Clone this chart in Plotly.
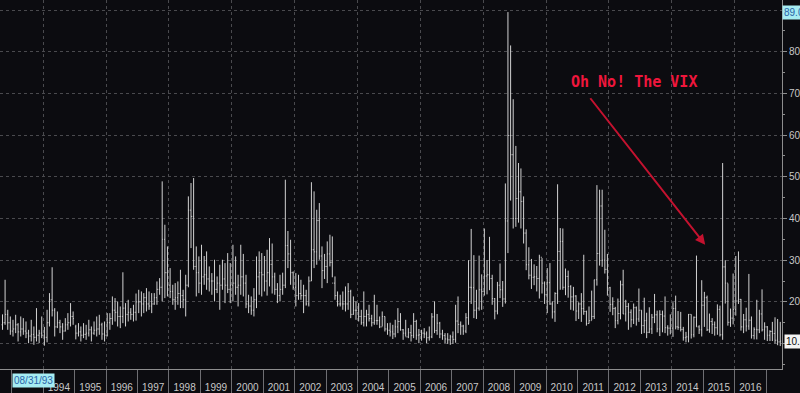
import pandas as pd
import plotly.graph_objects as go

# ---------------- data (monthly VIX bars, Sep 1992 .. Jun 2017) ----------------
first_month = "1992-09-01"

vix_open = [
    14.5, 15.0, 17.0, 15.0,
    13.0, 13.5, 14.5, 12.8, 13.5, 13.0, 12.5, 11.8, 12.2, 11.5, 12.0, 12.5,
    12.0, 11.5, 15.0, 20.5, 18.0, 14.0, 15.0, 14.0, 13.0, 14.5, 15.0, 16.5,
    14.0, 12.5, 12.8, 12.0, 12.2, 12.5, 13.3, 12.5, 13.2, 13.5, 14.5, 12.3,
    12.0, 15.0, 16.0, 18.0, 17.5, 16.5, 16.5, 18.5, 17.0, 17.5, 17.0, 17.5,
    20.0, 20.0, 19.5, 21.0, 19.5, 19.0, 19.5, 21.0, 23.0, 23.5, 35.0, 27.0,
    24.0, 22.5, 20.5, 21.0, 22.0, 21.5, 20.5, 24.0, 42.0, 40.5, 28.5, 27.0,
    24.5, 26.0, 26.5, 25.5, 25.0, 25.0, 23.0, 24.5, 24.0, 25.5, 24.0, 23.0,
    24.0, 24.5, 23.5, 24.0, 26.0, 24.5, 19.5, 19.0, 18.0, 20.5, 26.0, 27.0,
    26.5, 25.0, 27.0, 29.0, 26.0, 23.0, 21.5, 23.0, 24.0, 33.5, 31.5, 27.0,
    23.5, 21.5, 22.0, 21.5, 21.5, 19.5, 25.0, 32.5, 32.0, 39.5, 31.0, 27.5,
    28.5, 31.5, 29.5, 24.5, 21.5, 19.5, 19.5, 19.5, 19.5, 22.5, 17.0, 18.0,
    18.0, 16.5, 15.0, 16.5, 17.0, 16.0, 15.0, 15.5, 15.5, 14.0, 16.5, 13.5,
    13.2, 12.8, 12.3, 14.0, 15.3, 13.3, 12.5, 11.6, 12.6, 11.9, 15.3, 12.0,
    12.1, 12.5, 12.3, 11.4, 11.6, 16.4, 13.1, 14.9, 12.3, 11.9, 11.1, 10.9,
    11.6, 11.0, 15.4, 14.6, 14.2, 13.0, 16.2, 23.5, 23.4, 18.0, 18.5, 22.9,
    22.5, 26.2, 26.5, 25.6, 20.8, 17.8, 24.0, 22.9, 20.7, 39.4, 59.9, 55.3,
    40.0, 44.8, 46.4, 44.1, 36.5, 28.9, 26.4, 25.9, 26.0, 25.6, 30.7, 24.5,
    21.7, 24.6, 19.5, 17.6, 22.0, 32.1, 34.5, 23.5, 26.1, 23.7, 21.2, 21.4,
    17.8, 19.5, 18.4, 17.7, 14.8, 15.5, 16.5, 25.3, 31.6, 43.0, 30.0, 27.8,
    23.4, 19.4, 18.4, 15.5, 17.2, 24.1, 17.1, 18.9, 17.5, 15.7, 18.6, 15.9,
    18.0, 14.3, 15.5, 12.7, 13.5, 16.3, 16.9, 13.5, 17.0, 16.6, 13.8, 13.7,
    13.7, 18.4, 14.0, 13.9, 13.4, 11.4, 11.6, 17.0, 12.1, 16.3, 14.0, 13.3,
    19.2, 21.0, 13.3, 15.3, 14.6, 13.8, 18.2, 12.1, 28.4, 24.5, 15.1, 16.1,
    18.2, 20.2, 20.6, 14.0, 15.7, 14.2, 15.6, 11.9, 13.4, 13.3, 17.1, 13.3,
    14.0, 12.0, 12.9, 12.4, 10.8, 10.4,
]

vix_high = [
    17.0, 25.3, 18.1, 16.5,
    15.7, 16.9, 14.9, 16.5, 16.1, 15.3, 13.3, 15.7, 14.1, 18.5, 13.3, 16.5,
    14.0, 18.1, 22.1, 28.3, 18.5, 17.7, 15.7, 14.9, 16.1, 17.3, 19.7, 17.7,
    14.5, 14.9, 14.1, 14.9, 14.5, 15.7, 14.1, 15.3, 16.5, 16.9, 15.0, 15.3,
    17.3, 17.3, 21.3, 20.9, 20.1, 18.9, 27.1, 19.7, 20.5, 18.5, 19.3, 22.0,
    22.9, 22.5, 22.1, 23.3, 22.5, 22.1, 22.1, 24.9, 25.7, 48.9, 38.5, 33.3,
    28.1, 24.1, 24.5, 24.9, 27.7, 22.9, 26.5, 45.3, 48.5, 49.7, 33.3, 30.9,
    33.7, 31.0, 32.1, 28.5, 26.9, 30.1, 26.1, 28.9, 30.1, 29.3, 31.7, 29.3,
    33.7, 30.9, 26.5, 33.7, 31.5, 26.5, 21.7, 21.3, 23.3, 30.9, 32.1, 31.7,
    31.0, 32.5, 35.3, 34.0, 27.0, 24.5, 26.5, 27.0, 49.3, 37.0, 34.9, 27.3,
    26.9, 26.5, 25.3, 24.1, 22.9, 26.1, 48.7, 46.5, 42.1, 43.7, 33.3, 31.5,
    34.5, 36.1, 35.7, 26.1, 22.5, 21.7, 22.5, 23.7, 24.5, 22.9, 21.3, 20.1,
    19.7, 18.1, 22.5, 18.1, 19.3, 16.9, 21.7, 19.3, 16.5, 17.7, 16.5, 14.9,
    15.0, 14.5, 15.7, 18.5, 17.3, 13.5, 15.7, 13.7, 14.5, 17.3, 15.7, 13.5,
    13.3, 13.7, 12.9, 14.1, 17.3, 20.1, 17.1, 15.2, 13.3, 12.5, 12.5, 12.1,
    12.9, 19.3, 21.3, 15.3, 14.5, 17.3, 30.0, 37.5, 31.2, 22.9, 31.1, 26.6,
    37.6, 30.0, 35.6, 26.5, 20.9, 24.8, 29.2, 25.0, 48.4, 89.5, 81.5, 68.6,
    57.4, 53.3, 52.0, 45.3, 37.4, 33.1, 30.3, 29.0, 28.6, 31.3, 30.5, 24.9,
    28.1, 29.3, 20.1, 22.3, 48.2, 37.7, 37.6, 28.0, 27.5, 24.0, 23.6, 21.6,
    19.9, 22.1, 31.3, 17.9, 18.9, 22.7, 25.3, 48.0, 46.9, 46.9, 37.3, 31.5,
    23.6, 21.1, 18.8, 20.8, 25.1, 27.7, 20.5, 19.7, 18.2, 19.6, 18.9, 23.2,
    18.0, 21.0, 17.4, 18.7, 17.1, 21.9, 17.9, 18.0, 17.9, 21.3, 14.4, 17.0,
    19.9, 21.5, 17.8, 17.6, 14.0, 12.8, 17.1, 17.0, 16.5, 31.1, 14.4, 25.2,
    22.4, 21.5, 17.2, 16.1, 15.3, 19.4, 19.1, 53.3, 30.0, 24.4, 18.4, 26.8,
    31.0, 32.1, 20.7, 17.1, 18.6, 26.7, 16.5, 13.9, 20.5, 18.1, 23.0, 15.1,
    14.2, 13.2, 15.2, 16.3, 15.9, 15.2,
]

vix_low = [
    13.3, 14.5, 13.3, 12.1,
    11.7, 12.5, 10.5, 11.7, 12.1, 11.3, 10.1, 10.5, 9.7, 10.5, 10.1, 11.3,
    9.5, 10.3, 14.1, 16.5, 11.7, 13.7, 12.5, 10.9, 12.9, 13.3, 14.1, 14.5,
    11.0, 11.7, 10.5, 11.3, 10.9, 11.7, 10.5, 12.1, 11.7, 12.1, 10.9, 10.5,
    11.7, 13.3, 14.5, 15.3, 14.1, 13.7, 14.9, 14.1, 15.3, 15.7, 15.3, 15.5,
    17.3, 16.5, 17.3, 17.7, 18.1, 17.3, 19.3, 19.3, 21.7, 20.1, 20.9, 21.3,
    20.9, 19.3, 18.1, 19.3, 18.5, 18.5, 16.5, 23.5, 32.9, 27.7, 21.3, 22.1,
    21.7, 24.1, 22.9, 22.5, 21.7, 20.1, 22.1, 18.1, 22.9, 19.7, 22.1, 19.7,
    20.1, 21.7, 18.9, 21.7, 21.3, 18.5, 17.3, 16.9, 16.5, 18.5, 21.7, 21.3,
    22.5, 21.5, 23.7, 22.0, 21.7, 19.7, 20.1, 21.7, 23.3, 28.1, 24.1, 22.9,
    18.9, 20.5, 20.5, 17.3, 19.1, 18.9, 25.0, 28.1, 28.9, 30.1, 23.3, 25.5,
    24.5, 28.5, 25.9, 20.5, 18.9, 18.9, 18.1, 17.7, 18.1, 16.1, 16.9, 15.7,
    15.3, 14.5, 14.1, 14.1, 15.3, 14.1, 14.5, 14.5, 13.7, 14.1, 12.9, 12.1,
    11.7, 11.1, 11.5, 12.5, 13.1, 10.9, 11.7, 11.3, 10.5, 11.3, 10.9, 10.1,
    10.7, 11.3, 10.1, 10.7, 11.3, 12.5, 12.1, 11.3, 10.9, 10.1, 9.9, 9.7,
    9.9, 10.2, 12.5, 12.1, 12.1, 12.5, 14.5, 19.5, 16.1, 15.9, 17.9, 18.1,
    21.5, 21.8, 22.8, 19.3, 15.8, 17.0, 20.9, 18.8, 19.6, 31.7, 44.3, 37.6,
    38.0, 39.0, 37.6, 34.0, 27.6, 25.4, 23.1, 24.0, 22.5, 20.8, 22.0, 19.5,
    17.3, 19.3, 16.0, 15.2, 19.5, 22.9, 22.9, 21.6, 21.0, 18.1, 17.9, 15.4,
    15.9, 15.2, 16.9, 14.3, 14.8, 15.6, 15.9, 23.9, 28.7, 28.4, 26.8, 21.5,
    17.6, 16.8, 13.7, 14.6, 15.8, 17.1, 15.3, 13.3, 13.9, 14.7, 14.3, 15.2,
    12.3, 12.5, 11.3, 12.5, 12.3, 14.9, 12.7, 11.8, 12.7, 12.5, 11.9, 12.2,
    11.6, 13.4, 13.3, 12.9, 10.7, 10.3, 10.3, 11.2, 11.5, 14.0, 12.3, 11.7,
    14.0, 13.0, 12.6, 12.3, 11.9, 12.1, 11.7, 10.9, 19.6, 14.3, 14.0, 14.6,
    16.7, 19.5, 13.1, 12.5, 12.9, 13.3, 11.2, 11.0, 11.0, 12.5, 12.9, 10.9,
    10.6, 10.6, 10.6, 10.0, 9.6, 9.4,
]

vix_close = [
    15.0, 17.0, 15.0, 13.0,
    13.5, 14.5, 12.8, 13.5, 13.0, 12.5, 11.8, 12.2, 11.5, 12.0, 12.5, 12.0,
    11.5, 15.0, 20.5, 18.0, 14.0, 15.0, 14.0, 13.0, 14.5, 15.0, 16.5, 16.0,
    12.5, 12.8, 12.0, 12.2, 12.5, 13.3, 12.5, 13.2, 13.5, 14.5, 12.3, 12.0,
    15.0, 16.0, 18.0, 17.5, 16.5, 16.5, 18.5, 17.0, 17.5, 17.0, 17.5, 20.0,
    20.0, 19.5, 21.0, 19.5, 19.0, 19.5, 21.0, 23.0, 23.5, 35.0, 27.0, 24.0,
    22.5, 20.5, 21.0, 22.0, 21.5, 20.5, 24.0, 42.0, 40.5, 28.5, 27.0, 24.5,
    26.0, 26.5, 25.5, 25.0, 25.0, 23.0, 24.5, 24.0, 25.5, 24.0, 23.0, 24.0,
    24.5, 23.5, 24.0, 26.0, 24.5, 19.5, 19.0, 18.0, 20.5, 26.0, 27.0, 26.5,
    25.0, 27.0, 29.0, 26.0, 23.0, 21.5, 23.0, 24.0, 33.5, 31.5, 27.0, 23.5,
    21.5, 22.0, 21.5, 21.5, 19.5, 25.0, 32.5, 32.0, 39.5, 31.0, 27.5, 28.5,
    31.5, 29.5, 24.5, 21.5, 19.5, 19.5, 19.5, 19.5, 22.5, 17.0, 18.0, 18.0,
    16.5, 15.0, 16.5, 17.0, 16.0, 15.0, 15.5, 15.5, 14.0, 16.5, 13.5, 13.2,
    12.8, 12.3, 14.0, 15.3, 13.3, 12.5, 11.6, 12.6, 11.9, 15.3, 12.0, 12.1,
    12.5, 12.3, 11.4, 11.6, 16.4, 13.1, 14.9, 12.3, 11.9, 11.1, 10.9, 11.6,
    11.0, 15.4, 14.6, 14.2, 13.0, 16.2, 23.5, 23.4, 18.0, 18.5, 22.9, 22.5,
    26.2, 26.5, 25.6, 20.8, 17.8, 24.0, 22.9, 20.7, 39.4, 59.9, 55.3, 40.0,
    44.8, 46.4, 44.1, 36.5, 28.9, 26.4, 25.9, 26.0, 25.6, 30.7, 24.5, 21.7,
    24.6, 19.5, 17.6, 22.0, 32.1, 34.5, 23.5, 26.1, 23.7, 21.2, 21.4, 17.8,
    19.5, 18.4, 17.7, 14.8, 15.5, 16.5, 25.3, 31.6, 43.0, 30.0, 27.8, 23.4,
    19.4, 18.4, 15.5, 17.2, 24.1, 17.1, 18.9, 17.5, 15.7, 18.6, 15.9, 18.0,
    14.3, 15.5, 12.7, 13.5, 16.3, 16.9, 13.5, 17.0, 16.6, 13.8, 13.7, 13.7,
    18.4, 14.0, 13.9, 13.4, 11.4, 11.6, 17.0, 12.1, 16.3, 14.0, 13.3, 19.2,
    21.0, 13.3, 15.3, 14.6, 13.8, 18.2, 12.1, 28.4, 24.5, 15.1, 16.1, 18.2,
    20.2, 20.6, 14.0, 15.7, 14.2, 15.6, 11.9, 13.4, 13.3, 17.1, 13.3, 14.0,
    12.0, 12.9, 12.4, 10.8, 10.4, 10.6,
]

year_labels = [str(y) for y in range(1994, 2017)]
y_ticks = [10, 20, 30, 40, 50, 60, 70, 80, 90]
y_tick_labels = ["10", "20", "30", "40", "50", "60", "70", "80", ""]
start_label = "08/31/93"
high_label = "89.08"
last_label = "10.6"
annotation_text = "Oh No! The VIX"

# ---------------- derived positions ----------------
months = pd.date_range(first_month, periods=len(vix_close), freq="MS") + pd.Timedelta(days=14)
year_starts = [f"{y}-01-01" for y in range(1993, 2018)]
even_year_starts = [f"{y}-01-01" for y in range(1994, 2017, 2)]
mid_years = [f"{y}-07-02" for y in range(1994, 2017)]
x_range = ["1992-08-17", "2017-07-05"]

BG = "#0c0c10"
GRID = "#4a4a4e"
BAR = "#d2d2d2"
AXIS = "#8e8e8e"
TXT = "#c8c8c8"
NARROW = "Liberation Sans Narrow, Arial Narrow, Liberation Sans, Arial, sans-serif"

fig = go.Figure()
fig.add_trace(go.Ohlc(
    x=months, open=vix_open, high=vix_high, low=vix_low, close=vix_close,
    increasing=dict(line=dict(color=BAR, width=1)),
    decreasing=dict(line=dict(color=BAR, width=1)),
    tickwidth=0.35, showlegend=False, hoverinfo="skip",
))
# invisible helper trace so the label axis is rendered
fig.add_trace(go.Scatter(
    x=[months[0]], y=[vix_close[0]], xaxis="x2", yaxis="y",
    mode="markers", marker=dict(opacity=0), showlegend=False, hoverinfo="skip",
))

fig.update_layout(
    width=800, height=393,
    margin=dict(l=0, r=18, t=0, b=24, autoexpand=False),
    paper_bgcolor=BG, plot_bgcolor=BG,
    showlegend=False,
    xaxis=dict(
        type="date", range=x_range, rangeslider=dict(visible=False),
        tickmode="array", tickvals=even_year_starts, showticklabels=False,
        ticks="outside", ticklen=23, tickcolor="#6e6e72", tickwidth=1,
        showgrid=True, gridcolor=GRID, griddash="dot", gridwidth=1,
        minor=dict(tickmode="array", tickvals=year_starts, ticks="outside",
                   ticklen=23, tickcolor="#6e6e72", tickwidth=1, showgrid=False),
        showline=True, linecolor=AXIS, linewidth=1, zeroline=False,
    ),
    xaxis2=dict(
        type="date", range=x_range, overlaying="x", anchor="y", side="bottom",
        tickmode="array", tickvals=mid_years, ticktext=year_labels,
        ticks="outside", ticklen=9, tickcolor="rgba(0,0,0,0)",
        tickfont=dict(family=NARROW, size=10, color=TXT),
        showgrid=False, showline=False, zeroline=False,
    ),
    yaxis=dict(
        side="right", range=[3.9, 92.4],
        tickmode="array", tickvals=y_ticks, ticktext=y_tick_labels,
        ticks="outside", ticklen=4, tickcolor=AXIS,
        tickfont=dict(family=NARROW, size=10, color=TXT),
        showgrid=True, gridcolor=GRID, griddash="dot", gridwidth=1,
        minor=dict(dtick=5, tick0=0, ticks="outside", ticklen=2, tickcolor=AXIS, showgrid=False),
        showline=True, linecolor=AXIS, linewidth=1, zeroline=False,
    ),
)

fig.add_annotation(
    x="2015-01-24", y=33.7, xref="x", yref="y", text="",
    showarrow=True, ax=-116, ay=-148, arrowcolor="#c4122f",
    arrowwidth=2, arrowhead=2, arrowsize=1,
)
fig.add_annotation(
    x="2012-10-22", y=72.8, xref="x", yref="y", text="<b>" + annotation_text + "</b>",
    showarrow=False, font=dict(family="DejaVu Sans Mono", size=15, color="#f0163c"),
    xanchor="center", yanchor="middle",
)
fig.add_annotation(
    x="1993-01-01", y=0, xref="x", yref="paper", text=start_label,
    showarrow=False, xanchor="left", yanchor="top", yshift=-4,
    bgcolor="#a6ecf2", font=dict(family=NARROW, size=10, color="#2a64a8"),
    borderpad=1,
)
fig.add_annotation(
    x=1, y=max(vix_high), xref="paper", yref="y", text=high_label,
    showarrow=False, xanchor="left", yanchor="middle",
    bgcolor="#a6ecf2", font=dict(family=NARROW, size=10, color="#2a64a8"),
    borderpad=1,
)
fig.add_annotation(
    x=1, y=vix_close[-1], xref="paper", yref="y", text=last_label,
    showarrow=False, xanchor="left", yanchor="middle", xshift=2,
    bgcolor="#f4f4f4", font=dict(family=NARROW, size=10, color="#111111"),
    borderpad=1,
)

fig.write_html(
    "out.html",
    config={"displayModeBar": False},
    post_script="document.body.style.margin='0';document.body.style.background='#0c0c10';",
)
